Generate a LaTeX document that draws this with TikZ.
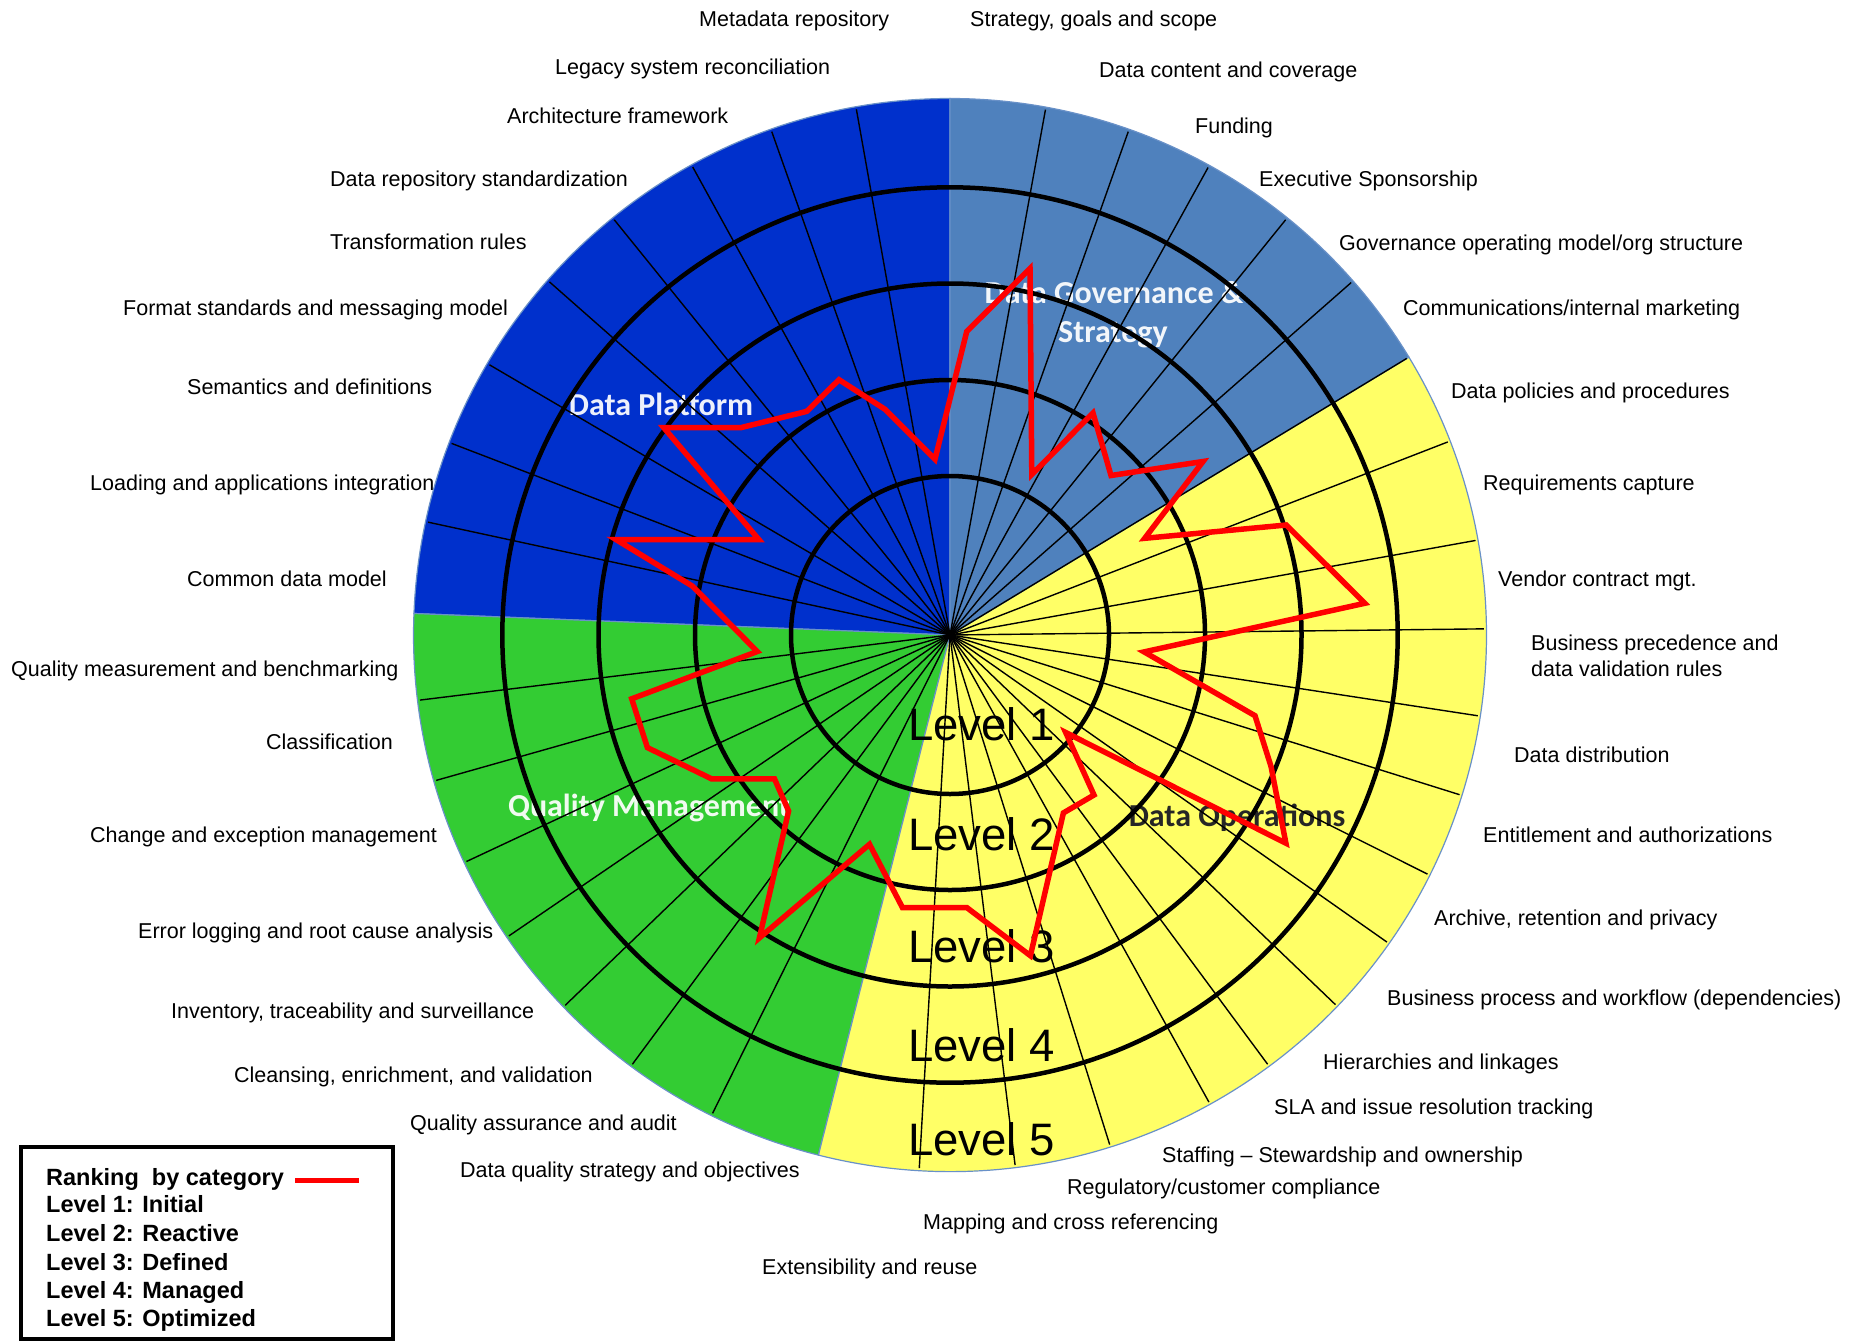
\documentclass[tikz,border=0pt]{standalone}
\usepackage{fontspec}
\setmainfont{Liberation Sans}
\newfontfamily\titlefont{Carlito}
\definecolor{dpblue}{RGB}{0,48,204}
\definecolor{dgblue}{RGB}{79,129,189}
\definecolor{doyellow}{RGB}{255,255,102}
\definecolor{qmgreen}{RGB}{51,204,51}
\definecolor{rimline}{RGB}{105,145,200}
\definecolor{rank}{RGB}{255,0,0}
\begin{document}
\begin{tikzpicture}[x=1pt,y=-1pt,
  lab/.style={font=\fontsize{21.5}{24}\selectfont, anchor=west, inner sep=0pt,
              text height=15.4pt, text depth=0pt},
  lvl/.style={font=\fontsize{45.5}{50}\selectfont, anchor=west, inner sep=0pt,
              text height=32.6pt, text depth=0pt},
  area/.style={font=\titlefont\bfseries\fontsize{32}{36}\selectfont, inner sep=0pt,
               text height=20.6pt, text depth=0pt, text=white, text opacity=0.93},
  legendtxt/.style={font=\bfseries\fontsize{23.5}{26}\selectfont, anchor=west, inner sep=0pt,
              text height=16.8pt, text depth=0pt},
  spoke/.style={line width=1.4pt, black},
  ring/.style={line width=4.5pt, black},
  wedge/.style={draw=rimline, line width=1.2pt},
  ranking/.style={line width=5.5pt, rank, line join=miter}]

\useasboundingbox (0,0) rectangle (1860,1341);
\fill[white] (0,0) rectangle (1860,1341);

% ---- coloured category wedges ----
\begin{scope}[shift={(950,635)}, y=1pt]
  \def\R{536.5}
  \filldraw[wedge, fill=dpblue]   (0,0) -- (90:\R)    arc[start angle=90,    end angle=177.7, radius=\R] -- cycle;
  \filldraw[wedge, fill=qmgreen]  (0,0) -- (177.7:\R) arc[start angle=177.7, end angle=255.8, radius=\R] -- cycle;
  \filldraw[wedge, fill=doyellow] (0,0) -- (-104.2:\R) arc[start angle=-104.2, end angle=31.2, radius=\R] -- cycle;
  \filldraw[wedge, fill=dgblue]   (0,0) -- (31.2:\R)  arc[start angle=31.2,  end angle=90,    radius=\R] -- cycle;
\end{scope}

% ---- category titles (under the grid) ----
\node[area] (tgov1) at (1114,293) {Data Governance \&};
\node[area] (tgov2) at (1113,332) {Strategy};
\node[area] (tplat) at (661,405) {Data Platform};
\node[area] (tqual) at (649,806) {Quality Management};
\node[area, text=black!85, text opacity=1] (tops) at (1237,816) {Data Operations};

% ---- spokes and level rings ----
\begin{scope}[shift={(950,635)}, y=1pt]
  \foreach \a in {79.7,70.5,61.1,51.05,41.3,31.2,
                  21.2,10.2,0.66,-8.7,-17.4,-26.6,-35.1,-43.8,-53.5,-61.0,-72.6,-83.0,-93.3,
                  187.0,195.8,205.1,214.3,223.9,233.5,243.6,
                  100.1,109.5,118.8,128.96,138.6,149.6,158.97,167.8}
    \draw[spoke] (0,0) -- (\a:534);
  \foreach \r in {159,255,351.5,447.7}
    \draw[ring] (0,0) circle[radius=\r];
\end{scope}

% ---- level names ----
\node[lvl] (lv1) at (908,724)  {Level 1};
\node[lvl] (lv2) at (908,834)  {Level 2};
\node[lvl] (lv3) at (908,946)  {Level 3};
\node[lvl] (lv4) at (908,1045) {Level 4};
\node[lvl] (lv5) at (908,1139) {Level 5};

% ---- ranking by category ----
\draw[ranking] (935,459.2) -- (966.7,331.6) -- (1030,268.5) -- (1031.8,474.5)
  -- (1093,413) -- (1111,475.5) -- (1203,461.5) -- (1144.7,538.3) -- (1286.3,525)
  -- (1364.7,603.3) -- (1144.1,651.9) -- (1255,715.7) -- (1271,766.4) -- (1285.9,843.2)
  -- (1065.7,732.5) -- (1094,795) -- (1063.4,812.9) -- (1030.4,955.7) -- (966.7,907.5)
  -- (902.4,907.5) -- (869.5,844.3) -- (759.4,937.9) -- (788.6,811) -- (774.5,778.9)
  -- (711.7,778.9) -- (647.4,747.6) -- (631.7,698.8) -- (757.3,651.5) -- (692.2,586)
  -- (615.9,539.5) -- (758.8,539.5) -- (663.8,427.7) -- (741.4,427.5) -- (806.7,411.4)
  -- (839,379.7) -- (885,409.3) -- cycle;

% ---- category labels around the wheel ----
\node[lab] (c01) at (970,19)    {Strategy, goals and scope};
\node[lab] (c02) at (1099,70)   {Data content and coverage};
\node[lab] (c03) at (1195,126)  {Funding};
\node[lab] (c04) at (1259,179)  {Executive Sponsorship};
\node[lab] (c05) at (1339,243)  {Governance operating model/org structure};
\node[lab] (c06) at (1403,308)  {Communications/internal marketing};
\node[lab] (c07) at (1451,391)  {Data policies and procedures};
\node[lab] (c08) at (1483,483)  {Requirements capture};
\node[lab] (c09) at (1498,579)  {Vendor contract mgt.};
\node[lab] (c10a) at (1531,643) {Business precedence and};
\node[lab] (c10b) at (1531,669) {data validation rules};
\node[lab] (c11) at (1514,755)  {Data distribution};
\node[lab] (c12) at (1483,835)  {Entitlement and authorizations};
\node[lab] (c13) at (1434,918)  {Archive, retention and privacy};
\node[lab] (c14) at (1387,998)  {Business process and workflow (dependencies)};
\node[lab] (c15) at (1323,1062) {Hierarchies and linkages};
\node[lab] (c16) at (1274,1107) {SLA and issue resolution tracking};
\node[lab] (c17) at (1162,1155) {Staffing -- Stewardship and ownership};
\node[lab] (c18) at (1067,1187) {Regulatory/customer compliance};
\node[lab] (c19) at (923,1222)  {Mapping and cross referencing};
\node[lab] (c20) at (762,1267)  {Extensibility and reuse};
\node[lab] (c21) at (460,1170)  {Data quality strategy and objectives};
\node[lab] (c22) at (410,1123)  {Quality assurance and audit};
\node[lab] (c23) at (234,1075)  {Cleansing, enrichment, and validation};
\node[lab] (c24) at (171,1011)  {Inventory, traceability and surveillance};
\node[lab] (c25) at (138,931)   {Error logging and root cause analysis};
\node[lab] (c26) at (90,835)    {Change and exception management};
\node[lab] (c27) at (266,742)   {Classification};
\node[lab] (c28) at (11,669)    {Quality measurement and benchmarking};
\node[lab] (c29) at (187,579)   {Common data model};
\node[lab] (c30) at (90,483)    {Loading and applications integration};
\node[lab] (c31) at (187,387)   {Semantics and definitions};
\node[lab] (c32) at (123,308)   {Format standards and messaging model};
\node[lab] (c33) at (330,242)   {Transformation rules};
\node[lab] (c34) at (330,179)   {Data repository standardization};
\node[lab] (c35) at (507,116)   {Architecture framework};
\node[lab] (c36) at (555,67)    {Legacy system reconciliation};
\node[lab] (c37) at (699,19)    {Metadata repository};

% ---- legend ----
\draw[line width=4pt] (21,1147) rectangle (393,1339);
\node[legendtxt] (lg0) at (46,1177) {Ranking\ \ by category};
\draw[line width=5pt, rank] (295,1180) -- (359,1180);
\node[legendtxt] (lg1) at (46,1204) {Level 1: Initial};
\node[legendtxt] (lg2) at (46,1233) {Level 2: Reactive};
\node[legendtxt] (lg3) at (46,1262) {Level 3: Defined};
\node[legendtxt] (lg4) at (46,1290) {Level 4: Managed};
\node[legendtxt] (lg5) at (46,1318) {Level 5: Optimized};
\end{tikzpicture}
\end{document}
